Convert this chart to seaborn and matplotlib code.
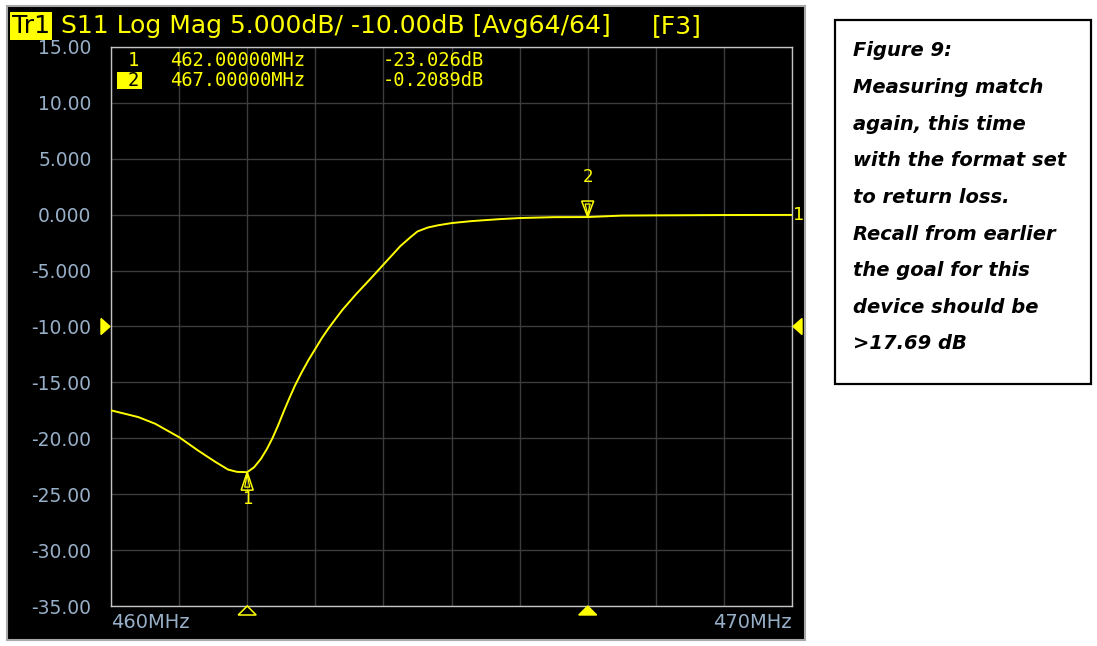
import numpy as np
import pandas as pd
import matplotlib
matplotlib.use("Agg")
import matplotlib.pyplot as plt
import matplotlib.transforms as mtransforms
from matplotlib.patches import Rectangle, Polygon
import seaborn as sns

# S11 trace (MHz, dB)
freq_mhz = [460.00, 460.40, 460.65, 461.00, 461.28, 461.53, 461.72, 461.85, 462.00,
            462.10, 462.20, 462.29, 462.37, 462.45, 462.55, 462.62, 462.70, 462.80,
            462.90, 463.00, 463.10, 463.19, 463.30, 463.40, 463.60, 463.80, 463.92,
            464.10, 464.25, 464.40, 464.50, 464.65, 464.80, 465.00, 465.30, 465.70,
            466.00, 466.50, 467.00, 467.50, 468.00, 469.00, 470.00]
s11_db = [-17.5, -18.1, -18.7, -19.9, -21.1, -22.1, -22.8, -23.0, -23.03,
          -22.6, -21.85, -20.95, -20.0, -18.9, -17.4, -16.4, -15.3, -14.1,
          -13.0, -12.0, -11.0, -10.2, -9.3, -8.5, -7.1, -5.8, -5.0,
          -3.8, -2.8, -2.0, -1.5, -1.15, -0.95, -0.75, -0.57, -0.40,
          -0.30, -0.22, -0.21, -0.08, -0.06, -0.03, -0.02]

marker_ids = ["1", "2"]
marker_freq = [462.0, 467.0]
marker_db = [-23.026, -0.2089]
marker_freq_txt = ["462.00000MHz", "467.00000MHz"]
marker_db_txt = ["-23.026dB", "-0.2089dB"]

y_ticks = [15, 10, 5, 0, -5, -10, -15, -20, -25, -30, -35]
y_tick_labels = ["15.00", "10.00", "5.000", "0.000", "-5.000", "-10.00",
                 "-15.00", "-20.00", "-25.00", "-30.00", "-35.00"]
x_ticks = list(range(460, 471))
ref_level = -10.0

caption_lines = ["Figure 9:", "Measuring match", "again, this time",
                 "with the format set", "to return loss.", "Recall from earlier",
                 "the goal for this", "device should be", ">17.69 dB"]

YEL = "#ffff00"
GRID = "#3c3c3c"
LBL = "#98afc8"
MONO = ["DejaVu Sans Mono"]

sns.set_theme(style="dark")
plt.rcParams["font.family"] = ["DejaVu Sans"]

W, H = 1097, 646
fig = plt.figure(figsize=(W / 100, H / 100), dpi=100)
fig.patch.set_facecolor("white")

def fx(px):
    return px / W

def fy(py):
    return 1 - py / H

# black screen of the analyzer
fig.patches.append(Rectangle((fx(7), fy(640)), fx(798), 634 / H, transform=fig.transFigure,
                             facecolor="black", edgecolor="#a8a8a8", lw=1.5, zorder=-5))

ax = fig.add_axes([fx(111), fy(606), fx(681), 559 / H])
ax.set_facecolor("black")

df = pd.DataFrame({"freq": freq_mhz, "s11": s11_db})
sns.lineplot(data=df, x="freq", y="s11", ax=ax, color=YEL, lw=1.4, zorder=3)

ax.set_xlim(460, 470)
ax.set_ylim(-35, 15)
ax.set_xticks(x_ticks)
ax.set_yticks(y_ticks)
ax.set_yticklabels(y_tick_labels)
ax.set_xticklabels([])
ax.set_xlabel("")
ax.set_ylabel("")
ax.grid(True, color=GRID, lw=1.0)
ax.tick_params(axis="both", length=0)
ax.tick_params(axis="y", pad=14, labelsize=13.5, labelcolor=LBL)
for sp in ax.spines.values():
    sp.set_visible(True)
    sp.set_color("#c4c4c4")
    sp.set_linewidth(1.0)

def poly(x, y, pts, trans_y=None, **kw):
    # pts in pixels relative to the anchor point
    base = ax.transData if trans_y is None else trans_y
    tr = mtransforms.Affine2D().scale(1 / 100) + fig.dpi_scale_trans + \
        mtransforms.ScaledTranslation(x, y, base)
    p = Polygon(pts, closed=True, transform=tr, clip_on=False, **kw)
    ax.add_patch(p)

# markers on the trace
up = [(0, 0), (-6, -18), (6, -18)]
up_in = [(0, -2), (-2.5, -15), (2.5, -15)]
poly(marker_freq[0], marker_db[0], up, fill=False, edgecolor=YEL, lw=1.1, zorder=5)
poly(marker_freq[0], marker_db[0], up_in, fill=False, edgecolor=YEL, lw=0.9, zorder=5)
down = [(0, 0), (-6, 16), (6, 16)]
down_in = [(0, 2), (-2.5, 13), (2.5, 13)]
poly(marker_freq[1], marker_db[1], down, fill=False, edgecolor=YEL, lw=1.1, zorder=5)
poly(marker_freq[1], marker_db[1], down_in, fill=False, edgecolor=YEL, lw=0.9, zorder=5)
ax.annotate(marker_ids[0], (marker_freq[0], marker_db[0]), xytext=(0, -27), textcoords="offset pixels",
            ha="center", va="center", color=YEL, fontsize=12)
ax.annotate(marker_ids[1], (marker_freq[1], marker_db[1]), xytext=(0, 40), textcoords="offset pixels",
            ha="center", va="center", color=YEL, fontsize=12)

# marker indicators under the x axis
bottom = mtransforms.blended_transform_factory(ax.transData, ax.transAxes)
tri_b = [(0, 0), (-9, -9), (9, -9)]
poly(marker_freq[0], 0, tri_b, trans_y=bottom, fill=False, edgecolor=YEL, lw=1.1, zorder=5)
poly(marker_freq[1], 0, tri_b, trans_y=bottom, facecolor=YEL, edgecolor=YEL, lw=1.0, zorder=5)

# reference level arrows
side = mtransforms.blended_transform_factory(ax.transAxes, ax.transData)
poly(0, ref_level, [(-1, 0), (-10, 8), (-10, -8)], trans_y=side, facecolor=YEL, edgecolor=YEL, zorder=5)
poly(1, ref_level, [(1, 0), (10, 8), (10, -8)], trans_y=side, facecolor=YEL, edgecolor=YEL, zorder=5)
ax.annotate("1", (1, s11_db[-1]), xycoords=side, xytext=(1, 0), textcoords="offset pixels",
            ha="left", va="center", color=YEL, fontsize=13)

# marker readout table
for i in range(len(marker_ids)):
    yy = 61 + 19 * i
    if i == 1:
        fig.patches.append(Rectangle((fx(117), fy(89)), fx(25), 17 / H, transform=fig.transFigure,
                                     facecolor=YEL, edgecolor="none", zorder=2))
        fig.text(fx(133), fy(yy), marker_ids[i], color="black", fontsize=13.5, family=MONO,
                 va="center", ha="center", zorder=3)
    else:
        fig.text(fx(133), fy(yy), marker_ids[i], color=YEL, fontsize=13.5, family=MONO,
                 va="center", ha="center")
    fig.text(fx(170), fy(yy), marker_freq_txt[i], color=YEL, fontsize=13.5, family=MONO, va="center")
    fig.text(fx(383), fy(yy), marker_db_txt[i], color=YEL, fontsize=13.5, family=MONO, va="center")

# header line
fig.text(fx(12), fy(26), "Tr1", color="black", fontsize=18, va="center", ha="left",
         bbox=dict(boxstyle="square,pad=0.08", fc=YEL, ec="none"))
fig.text(fx(61), fy(26), "S11 Log Mag 5.000dB/ -10.00dB [Avg64/64]", color=YEL,
         fontsize=18, va="center", ha="left")
fig.text(fx(652), fy(26), "[F3]", color=YEL, fontsize=18, va="center", ha="left")

# frequency range labels
fig.text(fx(111), fy(622), "%dMHz" % x_ticks[0], color=LBL, fontsize=14, va="center", ha="left")
fig.text(fx(792), fy(622), "%dMHz" % x_ticks[-1], color=LBL, fontsize=14, va="center", ha="right")

# caption box
fig.patches.append(Rectangle((fx(835), fy(384)), fx(256), 364 / H, transform=fig.transFigure,
                             facecolor="white", edgecolor="black", lw=1.6, zorder=-5))
for i, line in enumerate(caption_lines):
    fig.text(fx(853), fy(56.5 + 36.6 * i), line, family=["DejaVu Sans"],
             fontweight="bold", style="italic", fontsize=14, color="black",
             va="baseline", ha="left")

fig.savefig("out.png", dpi=100, facecolor="white")
